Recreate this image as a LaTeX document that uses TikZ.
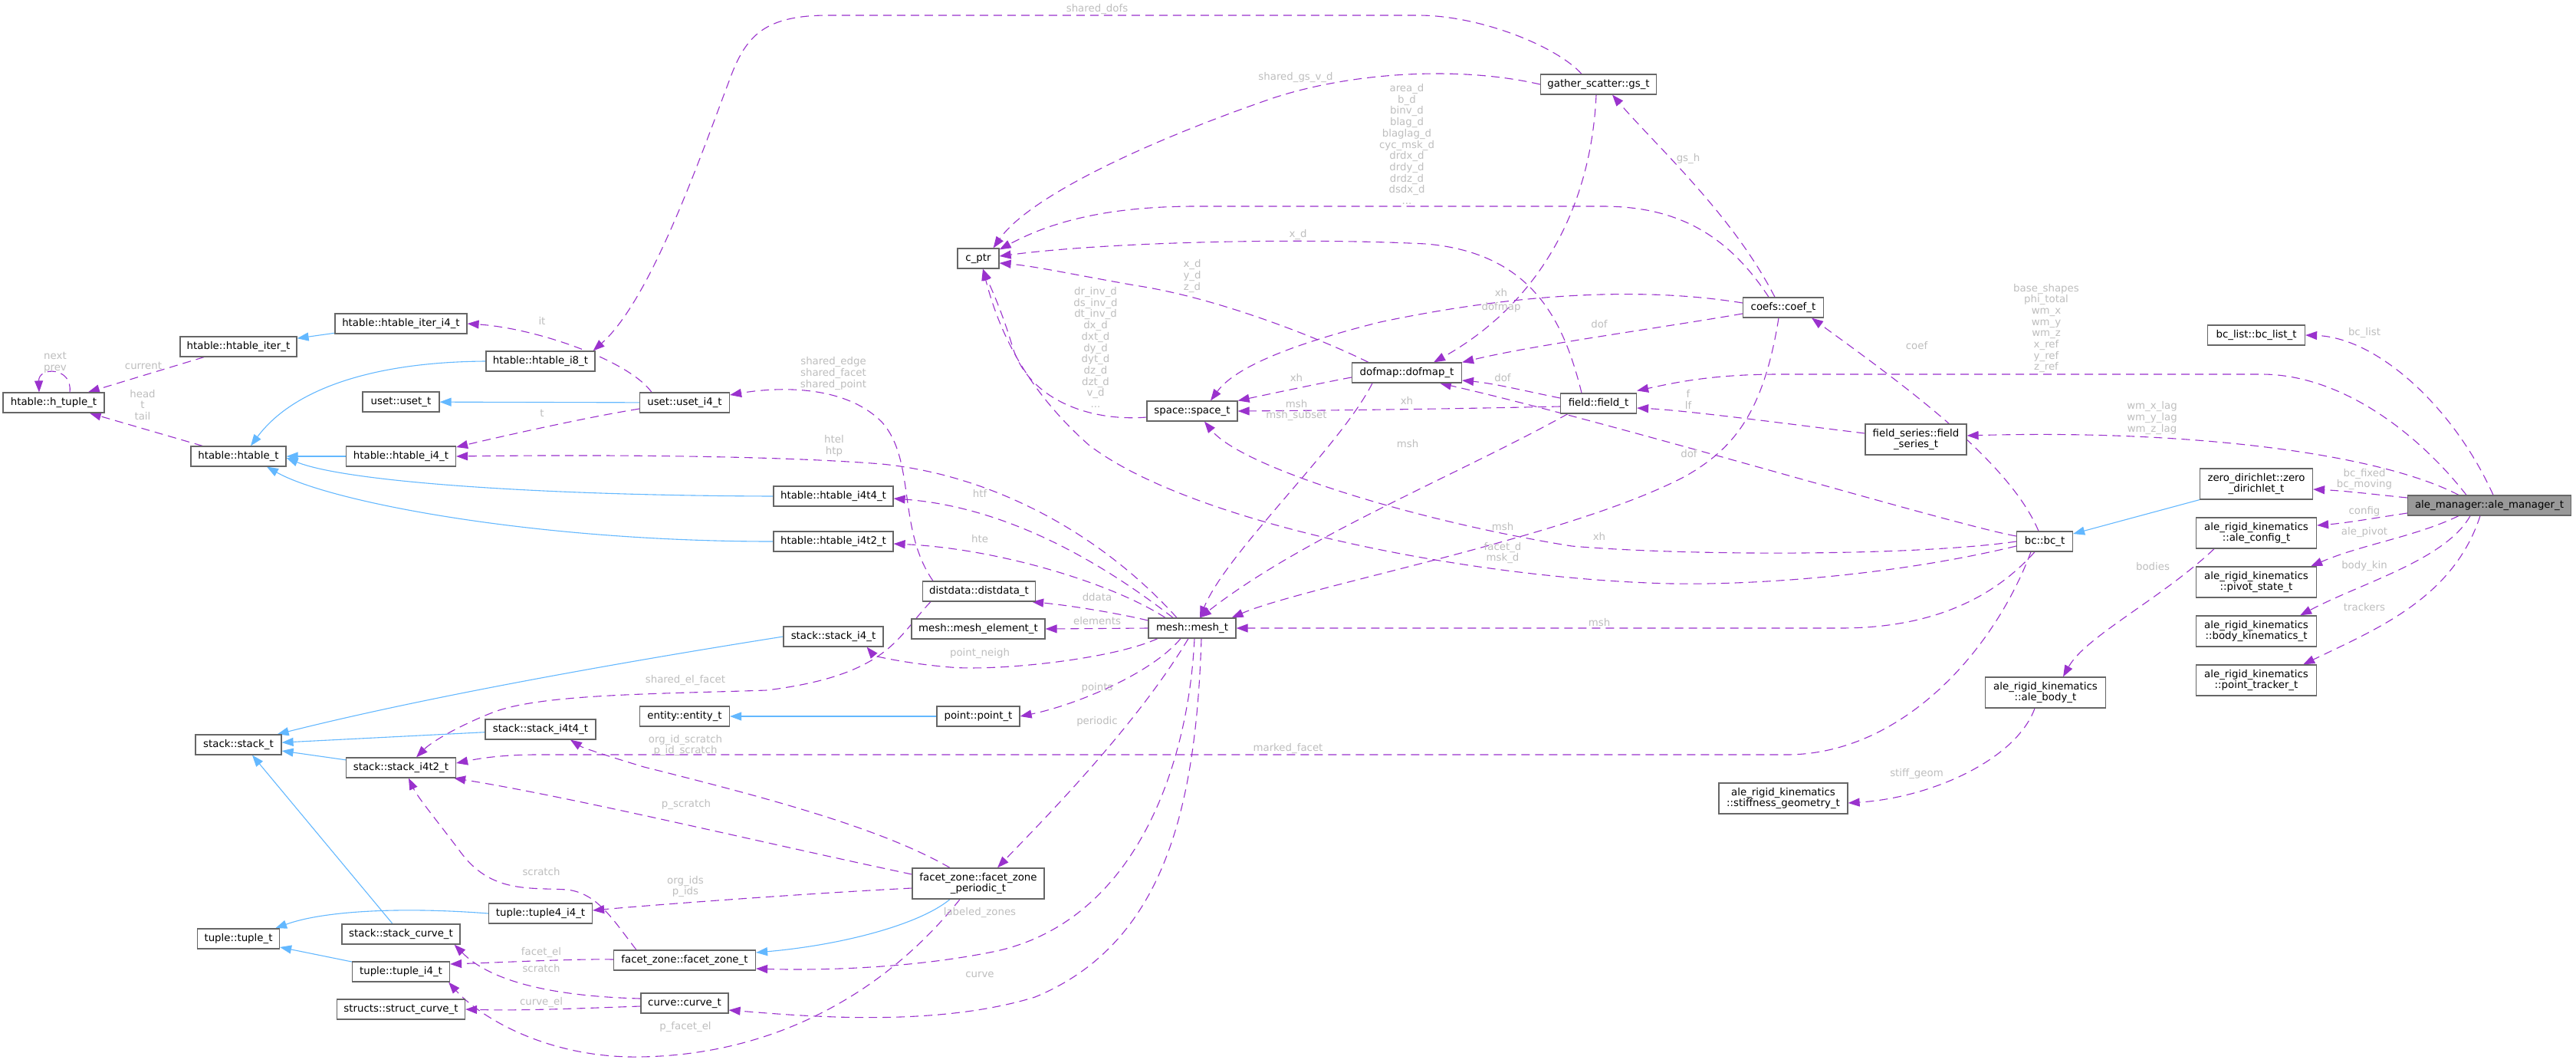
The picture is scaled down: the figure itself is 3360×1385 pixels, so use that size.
\documentclass[tikz,border=0pt]{standalone}
\usepackage{fontspec}
\setmainfont{DejaVu Sans}
\usetikzlibrary{arrows.meta}
\definecolor{usecol}{HTML}{9A32CD}
\definecolor{inhcol}{HTML}{63B8FF}
\definecolor{nodeborder}{HTML}{666666}
\definecolor{mainfill}{HTML}{999999}
\definecolor{lblcol}{HTML}{BEBEBE}
\newcommand{\nf}{\fontsize{13.33}{14.7}\selectfont}
\pgfdeclarelayer{bgl}
\pgfdeclarelayer{edges}
\pgfsetlayers{bgl,edges,main}
\begin{document}
\begin{tikzpicture}[x=1pt,y=-1pt,
  cls/.style={draw=nodeborder, line width=1.2pt, fill=white, inner sep=0pt, align=center, font=\nf, minimum height=26pt},
  two/.style={minimum height=40pt},
  mainc/.style={cls, fill=mainfill},
  use/.style={draw=usecol, line width=1.1pt, dash pattern=on 11pt off 7pt, -{Triangle[length=15pt,width=11pt]}},
  inh/.style={draw=inhcol, line width=1.1pt, -{Triangle[length=15pt,width=11pt]}},
  lbl/.style={text=lblcol, font=\nf, align=center, inner sep=0pt}]
\useasboundingbox (0,0) rectangle (3360,1385);
\begin{pgfonlayer}{bgl}
\fill[white] (0,0) rectangle (3360,1385);
\end{pgfonlayer}

% ---------------- nodes ----------------
\node[mainc, minimum width=213pt] (ale) at (3247,659) {ale\_manager::ale\_manager\_t};
\node[cls, minimum width=127pt] (bclist) at (2943,437) {bc\_list::bc\_list\_t};
\node[cls, two, minimum width=147pt] (zd) at (2943,631) {zero\_dirichlet::zero\\\_dirichlet\_t};
\node[cls, two, minimum width=157pt] (config) at (2943,695) {ale\_rigid\_kinematics\\::ale\_config\_t};
\node[cls, two, minimum width=157pt] (pivot) at (2943,759) {ale\_rigid\_kinematics\\::pivot\_state\_t};
\node[cls, two, minimum width=157pt] (bodykin) at (2943,823) {ale\_rigid\_kinematics\\::body\_kinematics\_t};
\node[cls, two, minimum width=157pt] (tracker) at (2943,887) {ale\_rigid\_kinematics\\::point\_tracker\_t};
\node[cls, minimum width=73pt] (bc) at (2667,706) {bc::bc\_t};
\node[cls, two, minimum width=157pt] (body) at (2668,903) {ale\_rigid\_kinematics\\::ale\_body\_t};
\node[cls, two, minimum width=168pt] (stiff) at (2326,1041) {ale\_rigid\_kinematics\\::stiffness\_geometry\_t};
\node[cls, two, minimum width=132pt] (fseries) at (2499,573) {field\_series::field\\\_series\_t};
\node[cls, minimum width=99pt] (field) at (2085,526) {field::field\_t};
\node[cls, minimum width=105pt] (coef) at (2326,401) {coefs::coef\_t};
\node[cls, minimum width=151pt] (gs) at (2085,110) {gather\_scatter::gs\_t};
\node[cls, minimum width=143pt] (dofmap) at (1835,486) {dofmap::dofmap\_t};
\node[cls, minimum width=118pt] (space) at (1555,536) {space::space\_t};
\node[cls, minimum width=54pt] (cptr) at (1276,337) {c\_ptr};
\node[cls, minimum width=114pt] (mesh) at (1555,819) {mesh::mesh\_t};
\node[cls, minimum width=147pt] (distdata) at (1277,771) {distdata::distdata\_t};
\node[cls, minimum width=174pt] (meshel) at (1276,820) {mesh::mesh\_element\_t};
\node[cls, minimum width=130pt] (stacki4) at (1087,830) {stack::stack\_i4\_t};
\node[cls, minimum width=156pt] (i4t4) at (1087,647) {htable::htable\_i4t4\_t};
\node[cls, minimum width=156pt] (i4t2) at (1087,706) {htable::htable\_i4t2\_t};
\node[cls, minimum width=117pt] (useti4) at (893,525) {uset::uset\_i4\_t};
\node[cls, minimum width=100pt] (uset) at (523,524) {uset::uset\_t};
\node[cls, minimum width=143pt] (i4) at (523,595) {htable::htable\_i4\_t};
\node[cls, minimum width=142pt] (i8) at (705,471) {htable::htable\_i8\_t};
\node[cls, minimum width=172pt] (iteri4) at (523,422) {htable::htable\_iter\_i4\_t};
\node[cls, minimum width=152pt] (iter) at (311,452) {htable::htable\_iter\_t};
\node[cls, minimum width=124pt] (htable) at (311,595) {htable::htable\_t};
\node[cls, minimum width=132pt] (htuple) at (70,525) {htable::h\_tuple\_t};
\node[cls, minimum width=117pt] (entity) at (893,934) {entity::entity\_t};
\node[cls, minimum width=108pt] (point) at (1276,934) {point::point\_t};
\node[cls, minimum width=112pt] (stack) at (311,971) {stack::stack\_t};
\node[cls, minimum width=144pt] (stacki4t4) at (705,951) {stack::stack\_i4t4\_t};
\node[cls, minimum width=143pt] (stacki4t2) at (523,1001) {stack::stack\_i4t2\_t};
\node[cls, two, minimum width=172pt] (fzp) at (1276,1152) {facet\_zone::facet\_zone\\\_periodic\_t};
\node[cls, minimum width=135pt] (tuple4) at (705,1191) {tuple::tuple4\_i4\_t};
\node[cls, minimum width=107pt] (tuple) at (311,1224) {tuple::tuple\_t};
\node[cls, minimum width=154pt] (stackcurve) at (523,1218) {stack::stack\_curve\_t};
\node[cls, minimum width=127pt] (tuplei4) at (523,1267) {tuple::tuple\_i4\_t};
\node[cls, minimum width=167pt] (structcurve) at (523,1316) {structs::struct\_curve\_t};
\node[cls, minimum width=185pt] (fz) at (893,1252) {facet\_zone::facet\_zone\_t};
\node[cls, minimum width=114pt] (curve) at (893,1308) {curve::curve\_t};

% ---------------- edges ----------------
\begin{pgfonlayer}{edges}
% inheritance
\draw[inh] (iteri4) -- (iter);
\draw[inh] (i8.west) .. controls (480,472) and (380,510) .. ([xshift=16pt]htable.north);
\draw[inh] (i4) -- (htable);
\draw[inh] (i4t4.west) .. controls (700,646) and (450,628) .. ([yshift=-2pt]htable.east);
\draw[inh] (i4t2.west) .. controls (700,706) and (430,655) .. ([xshift=37pt]htable.south);
\draw[inh] (useti4) -- (uset);
\draw[inh] (stacki4.west) .. controls (800,865) and (550,910) .. ([xshift=-6pt]stack.north east);
\draw[inh] (stacki4t4) -- (stack);
\draw[inh] (stacki4t2) -- (stack);
\draw[inh] ([xshift=-11pt]stackcurve.north) -- ([xshift=18pt]stack.south);
\draw[inh] (tuple4.west) .. controls (520,1182) and (420,1188) .. ([xshift=-6pt]tuple.north east);
\draw[inh] (tuplei4) -- (tuple);
\draw[inh] (point) -- (entity);
\draw[inh] ([xshift=-37pt]fzp.south) .. controls (1200,1205) and (1100,1232) .. ([yshift=10pt]fz.east);
\draw[inh] (zd.south west) -- (bc);

% usage
\draw[use] ([xshift=21pt]htuple.north) .. controls (95,478) and (50,478) .. ([xshift=-19pt]htuple.north);
\draw[use] (iter) -- (htuple);
\draw[use] (htable) -- (htuple);
\draw[use] ([xshift=-43pt]useti4.north) .. controls (820,470) and (700,428) .. (iteri4.east);
\draw[use] ([yshift=-8pt]useti4.west) .. controls (760,545) and (650,570) .. ([yshift=12pt]i4.east);
\draw[use] ([xshift=-22pt]gs.north) .. controls (2030,60) and (1930,20) .. (1850,20) -- (1080,20)
   .. controls (1000,20) and (975,45) .. (955,95) .. controls (915,200) and (850,390) .. ([xshift=-3pt]i8.north east);
\draw[use] (gs.west) .. controls (1900,85) and (1760,95) .. (1660,128) .. controls (1480,190) and (1340,260) .. ([xshift=-8pt]cptr.north east);
\draw[use] ([xshift=-3pt]gs.south) .. controls (2075,280) and (2000,400) .. ([xshift=35pt]dofmap.north);
\draw[use] ([xshift=-11pt]coef.north) .. controls (2260,280) and (2160,190) .. ([xshift=18pt]gs.south);
\draw[use] ([xshift=-19pt]coef.north) .. controls (2250,300) and (2180,269) .. (2090,269) -- (1560,269)
   .. controls (1430,269) and (1360,295) .. ([yshift=-2pt]cptr.north east);
\draw[use] ([yshift=6pt]coef.west) .. controls (2150,375) and (1990,380) .. (1800,420) .. controls (1680,450) and (1610,480) .. ([xshift=24pt]space.north);
\draw[use] ([yshift=-8pt]coef.west) .. controls (2150,430) and (2000,450) .. (dofmap.north east);
\draw[use] ([xshift=-6pt]coef.south) .. controls (2300,540) and (2260,585) .. (2200,620) .. controls (2050,700) and (1700,765) .. ([xshift=-6pt]mesh.north east);
\draw[use] ([xshift=-8pt]bc.north) .. controls (2620,600) and (2480,500) .. ([xshift=37pt]coef.south);
\draw[use] ([yshift=7pt]bc.west) .. controls (2550,685) and (2100,550) .. ([xshift=43pt]dofmap.south);
\draw[use] (bc.west) .. controls (2500,725) and (2200,725) .. (2050,712) .. controls (1850,680) and (1620,610) .. ([xshift=16pt]space.south);
\draw[use] ([yshift=-6pt]bc.west) .. controls (2450,755) and (2250,765) .. (2150,760) .. controls (1900,750) and (1550,680) .. (1420,580)
   .. controls (1330,500) and (1300,420) .. ([xshift=6pt]cptr.south);
\draw[use] ([xshift=-13pt]bc.south) .. controls (2600,780) and (2520,819) .. (2400,819) -- (mesh.east);
\draw[use] ([xshift=-18pt]bc.south) .. controls (2600,850) and (2480,984) .. (2330,984) -- (700,984)
   .. controls (650,984) and (620,990) .. ([yshift=6pt]stacki4t2.east);
\draw[use] ([xshift=5pt]ale.north) .. controls (3200,530) and (3100,440) .. (bclist.east);
\draw[use] ([xshift=-30pt]ale.north) .. controls (3150,560) and (3050,488) .. (2950,488) -- (2320,488)
   .. controls (2230,488) and (2180,500) .. ([yshift=3pt]field.north east);
\draw[use] ([xshift=-40pt]ale.north) .. controls (3100,590) and (2850,560) .. ([yshift=5pt]fseries.east);
\draw[use] ([yshift=10pt]ale.west) .. controls (3100,645) and (3060,640) .. ([yshift=-7pt]zd.east);
\draw[use] ([yshift=-10pt]ale.west) .. controls (3100,675) and (3060,682) .. ([yshift=10pt]config.east);
\draw[use] ([xshift=-40pt]ale.south) .. controls (3150,700) and (3080,710) .. ([xshift=-8pt]pivot.north east);
\draw[use] ([xshift=-25pt]ale.south) .. controls (3190,730) and (3080,760) .. ([xshift=-22pt]bodykin.north east);
\draw[use] ([xshift=-12pt]ale.south) .. controls (3200,780) and (3100,820) .. ([xshift=-18pt]tracker.north east);
\draw[use] ([xshift=-55pt]config.south) .. controls (2820,780) and (2720,830) .. ([xshift=23pt]body.north);
\draw[use] ([xshift=-14pt]body.south) .. controls (2630,990) and (2520,1040) .. ([yshift=-6pt]stiff.east);
\draw[use] ([yshift=8pt]fseries.west) .. controls (2350,555) and (2200,535) .. ([yshift=-6pt]field.east);
\draw[use] ([xshift=-22pt]field.north) .. controls (2040,420) and (2000,330) .. (1860,318) .. controls (1700,310) and (1450,315) .. ([yshift=3pt]cptr.east);
\draw[use] ([yshift=7pt]field.west) .. controls (1990,510) and (1950,500) .. ([yshift=-10pt]dofmap.east);
\draw[use] ([yshift=-4pt]field.west) .. controls (1900,533) and (1750,535) .. (space.east);
\draw[use] ([xshift=-40pt]field.south) .. controls (1900,620) and (1700,700) .. ([xshift=10pt]mesh.north);
\draw[use] ([xshift=-50pt]dofmap.north) .. controls (1740,450) and (1600,390) .. (1480,372) .. controls (1400,358) and (1350,347) .. ([yshift=-6pt]cptr.east);
\draw[use] ([yshift=-6pt]dofmap.west) .. controls (1720,500) and (1650,515) .. (space.north east);
\draw[use] ([xshift=-45pt]dofmap.south) .. controls (1750,580) and (1600,720) .. ([xshift=10pt]mesh.north);
\draw[use] ([yshift=-8pt]space.west) .. controls (1420,550) and (1340,520) .. (1320,450) .. controls (1305,400) and (1290,370) .. ([xshift=6pt]cptr.south);
\draw[use] ([xshift=-20pt]mesh.north) .. controls (1440,700) and (1300,620) .. (1150,605) .. controls (1000,593) and (750,593) .. (i4.east);
\draw[use] ([xshift=-25pt]mesh.north) .. controls (1420,720) and (1300,660) .. ([yshift=-3pt]i4t4.east);
\draw[use] ([xshift=-35pt]mesh.north) .. controls (1450,760) and (1300,715) .. ([yshift=-3pt]i4t2.east);
\draw[use] ([yshift=10pt]mesh.west) .. controls (1460,800) and (1400,790) .. ([xshift=-5pt]distdata.south east);
\draw[use] (mesh.west) -- (meshel.east);
\draw[use] ([xshift=-45pt]mesh.south) .. controls (1450,860) and (1300,875) .. (1240,870) .. controls (1180,865) and (1140,855) .. ([xshift=-22pt]stacki4.south east);
\draw[use] ([xshift=-15pt]mesh.south) .. controls (1500,880) and (1400,920) .. (point.east);
\draw[use] ([xshift=-5pt]mesh.south) .. controls (1480,950) and (1350,1080) .. ([xshift=25pt]fzp.north);
\draw[use] ([xshift=3pt]mesh.south) .. controls (1550,1000) and (1480,1200) .. (1300,1240) .. controls (1180,1265) and (1050,1265) .. ([yshift=-11pt]fz.east);
\draw[use] ([xshift=12pt]mesh.south) .. controls (1560,1050) and (1520,1230) .. (1350,1300) .. controls (1220,1340) and (1050,1325) .. ([yshift=-9pt]curve.east);
\draw[use] ([xshift=-60pt]distdata.north) .. controls (1170,690) and (1195,600) .. (1150,550) .. controls (1100,500) and (1010,505) .. ([yshift=10pt]useti4.east);
\draw[use] ([xshift=-63pt]distdata.south) .. controls (1170,830) and (1160,880) .. (1000,900) .. controls (850,905) and (700,905) .. (640,930)
   .. controls (590,950) and (560,970) .. ([xshift=20pt]stacki4t2.north);
\draw[use] ([xshift=-37pt]fzp.north) .. controls (1150,1080) and (1000,1040) .. (840,1000) .. controls (790,985) and (760,975) .. ([xshift=39pt]stacki4t4.south);
\draw[use] ([yshift=12pt]fzp.west) .. controls (1000,1100) and (750,1040) .. ([xshift=-3pt]stacki4t2.south east);
\draw[use] ([yshift=-6pt]fzp.west) .. controls (1050,1165) and (850,1180) .. ([yshift=4pt]tuple4.east);
\draw[use] ([xshift=-24pt]fzp.south) .. controls (1150,1300) and (1000,1380) .. (820,1378) .. controls (700,1375) and (620,1320) .. ([xshift=-2pt]tuplei4.south east);
\draw[use] ([xshift=-63pt]fz.north) .. controls (800,1200) and (780,1165) .. (740,1160) .. controls (690,1157) and (640,1165) .. (600,1110)
   .. controls (570,1070) and (545,1040) .. ([xshift=10pt]stacki4t2.south);
\draw[use] ([yshift=1pt]fz.west) .. controls (750,1250) and (650,1255) .. ([yshift=10pt]tuplei4.east);
\draw[use] ([yshift=6pt]curve.west) .. controls (760,1300) and (650,1290) .. ([xshift=-8pt]stackcurve.south east);
\draw[use] ([yshift=-4pt]curve.west) .. controls (750,1315) and (680,1318) .. (structcurve.east);
\end{pgfonlayer}

% ---------------- labels ----------------
\node[lbl] (Lnext) at (72,473) {next\\prev};
\node[lbl] (Lcurrent) at (187,477) {current};
\node[lbl] (Lhead) at (186,528) {head\\t\\tail};
\node[lbl] (Lit) at (707,418) {it};
\node[lbl] (Lt) at (707,539) {t};
\node[lbl] (Lsdofs) at (1431,12) {shared\_dofs};
\node[lbl] (Lsgs) at (1690,101) {shared\_gs\_v\_d};
\node[lbl] (Lcoefc) at (1835,188) {area\_d\\b\_d\\binv\_d\\blag\_d\\blaglag\_d\\cyc\_msk\_d\\drdx\_d\\drdy\_d\\drdz\_d\\dsdx\_d\\...};
\node[lbl] (Lgsh) at (2202,207) {gs\_h};
\node[lbl] (Lfxd) at (1693,306) {x\_d};
\node[lbl] (Ldxd) at (1555,360) {x\_d\\y\_d\\z\_d};
\node[lbl] (Lspc) at (1429,453) {dr\_inv\_d\\ds\_inv\_d\\dt\_inv\_d\\dx\_d\\dxt\_d\\dy\_d\\dyt\_d\\dz\_d\\dzt\_d\\v\_d\\...};
\node[lbl] (Lcxh) at (1958,381) {xh};
\node[lbl] (Lgsdm) at (1958,401) {dofmap};
\node[lbl] (Lcdof) at (2086,423) {dof};
\node[lbl] (Lcoef) at (2500,451) {coef};
\node[lbl] (Lbase) at (2669,428) {base\_shapes\\phi\_total\\wm\_x\\wm\_y\\wm\_z\\x\_ref\\y\_ref\\z\_ref};
\node[lbl] (Lbcl) at (3084,434) {bc\_list};
\node[lbl] (Ldxh) at (1691,492) {xh};
\node[lbl] (Lfdof) at (1960,493) {dof};
\node[lbl] (Lfxh) at (1835,522) {xh};
\node[lbl] (Ldmsh) at (1691,535) {msh\\msh\_subset};
\node[lbl] (Lflf) at (2202,521) {f\\lf};
\node[lbl] (Lfmsh) at (1836,579) {msh};
\node[lbl] (Lbdof) at (2203,592) {dof};
\node[lbl] (Lcmsh) at (1960,687) {msh};
\node[lbl] (Lfacet) at (1960,721) {facet\_d\\msk\_d};
\node[lbl] (Lbxh) at (2086,699) {xh};
\node[lbl] (Lbmsh) at (2086,812) {msh};
\node[lbl] (Lwm) at (2807,545) {wm\_x\_lag\\wm\_y\_lag\\wm\_z\_lag};
\node[lbl] (Lbcf) at (3084,625) {bc\_fixed\\bc\_moving};
\node[lbl] (Lcfg) at (3084,667) {config};
\node[lbl] (Lpiv) at (3084,694) {ale\_pivot};
\node[lbl] (Lbk) at (3084,738) {body\_kin};
\node[lbl] (Ltr) at (3084,792) {trackers};
\node[lbl] (Lbod) at (2808,739) {bodies};
\node[lbl] (Lstf) at (2500,1009) {stiff\_geom};
\node[lbl] (Lmark) at (1680,976) {marked\_facet};
\node[lbl] (Lshe) at (1087,487) {shared\_edge\\shared\_facet\\shared\_point};
\node[lbl] (Lhtel) at (1088,581) {htel\\htp};
\node[lbl] (Lhtf) at (1278,643) {htf};
\node[lbl] (Lhte) at (1278,703) {hte};
\node[lbl] (Ldd) at (1431,779) {ddata};
\node[lbl] (Lel) at (1431,810) {elements};
\node[lbl] (Lpn) at (1278,852) {point\_neigh};
\node[lbl] (Lsef) at (894,887) {shared\_el\_facet};
\node[lbl] (Lpts) at (1431,897) {points};
\node[lbl] (Lper) at (1431,941) {periodic};
\node[lbl] (Lois) at (894,972) {org\_id\_scratch\\p\_id\_scratch};
\node[lbl] (Lps) at (895,1049) {p\_scratch};
\node[lbl] (Loi) at (894,1156) {org\_ids\\p\_ids};
\node[lbl] (Llz) at (1278,1190) {labeled\_zones};
\node[lbl] (Lcur) at (1278,1271) {curve};
\node[lbl] (Lpfe) at (894,1339) {p\_facet\_el};
\node[lbl] (Lsc1) at (706,1137) {scratch};
\node[lbl] (Lfe) at (706,1242) {facet\_el};
\node[lbl] (Lsc2) at (706,1263) {scratch};
\node[lbl] (Lce) at (706,1307) {curve\_el};
\end{tikzpicture}
\end{document}
